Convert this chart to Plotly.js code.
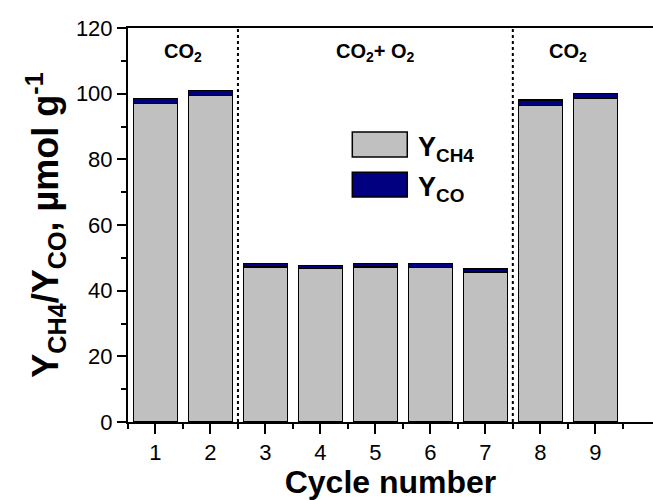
<!DOCTYPE html>
<html>
<head>
<meta charset="utf-8">
<script src="https://cdn.plot.ly/plotly-3.0.1.min.js"></script>
<style>html,body{margin:0;padding:0;background:#fff;}#chart{width:653px;height:500px;}</style>
</head>
<body>
<div id="chart"></div>
<script>
const cycles = [1, 2, 3, 4, 5, 6, 7, 8, 9];
const yCH4 = [97.0, 99.5, 47.2, 46.7, 47.2, 47.0, 45.7, 96.4, 98.5];
const yCO = [1.5, 1.5, 1.0, 1.0, 1.0, 1.2, 0.9, 1.6, 1.5];
const seriesNames = ["Y<sub>CH4</sub>", "Y<sub>CO</sub>"];
const seriesColors = ["#c0c0c0", "#000080"];
const regionLabels = ["CO<sub>2</sub>", "CO<sub>2</sub>+ O<sub>2</sub>", "CO<sub>2</sub>"];
const regionCenters = [1.5, 5, 8.5];
const regionDividers = [2.5, 7.5];
const yTicks = [0, 20, 40, 60, 80, 100, 120];

const FONT = "Arial, 'Liberation Sans', sans-serif";

const traces = [
  {type: "bar", x: cycles, y: yCH4, name: seriesNames[0], width: 0.8,
   marker: {color: seriesColors[0], line: {color: "#000", width: 1.5}}},
  {type: "bar", x: cycles, y: yCO, name: seriesNames[1], width: 0.8,
   marker: {color: seriesColors[1], line: {color: "#000", width: 1.5}}}
];

const shapes = regionDividers.map(v => ({
  type: "line", xref: "x", yref: "y", x0: v, x1: v, y0: 0, y1: 120,
  line: {color: "#000", width: 2, dash: "dot"}
}));

// legend boxes (drawn manually, Origin style)
const legX0 = 4.58, legX1 = 5.58;
const legRows = [[80.7, 88.3], [68.5, 76.1]];
legRows.forEach((r, i) => {
  shapes.push({type: "rect", xref: "x", yref: "y", x0: legX0, x1: legX1, y0: r[0], y1: r[1],
    fillcolor: seriesColors[i], line: {color: "#000", width: 1.5}});
});

const annotations = regionLabels.map((t, i) => ({
  x: regionCenters[i], y: 112.5, xref: "x", yref: "y", text: "<b>" + t + "</b>",
  showarrow: false, font: {family: FONT, size: 20, color: "#000"}
}));
legRows.forEach((r, i) => {
  annotations.push({x: 5.73, y: (r[0] + r[1]) / 2 - 1.2, xref: "x", yref: "y", xanchor: "left",
    text: "<b>" + seriesNames[i] + "</b>", showarrow: false,
    font: {family: FONT, size: 27, color: "#000"}});
});

const layout = {
  width: 653, height: 500,
  margin: {l: 128, r: 0, t: 28, b: 78},
  paper_bgcolor: "#fff", plot_bgcolor: "#fff",
  barmode: "stack",
  showlegend: false,
  font: {family: FONT, color: "#000"},
  xaxis: {
    range: [0.5, 10.05], tickvals: cycles, ticktext: cycles.map(String),
    ticks: "outside", ticklen: 10, tickwidth: 2, tickcolor: "#000",
    minor: {tickvals: [0.5,1.5,2.5,3.5,4.5,5.5,6.5,7.5,8.5,9.5], ticks: "outside", ticklen: 5, tickwidth: 2, tickcolor: "#000"},
    showline: true, linecolor: "#000", linewidth: 2, mirror: true,
    showgrid: false, zeroline: false,
    tickfont: {family: FONT, size: 22, color: "#000"},
    title: {text: "<b>Cycle number</b>", font: {family: FONT, size: 32, color: "#000"}, standoff: 4}
  },
  yaxis: {
    range: [0, 120], tickvals: yTicks,
    ticks: "outside", ticklen: 9, tickwidth: 2, tickcolor: "#000",
    minor: {dtick: 10, ticks: "outside", ticklen: 5, tickwidth: 2, tickcolor: "#000"},
    showline: true, linecolor: "#000", linewidth: 2, mirror: false,
    showgrid: false, zeroline: false,
    tickfont: {family: FONT, size: 22, color: "#000"},
    title: {text: "<b>Y<sub>CH4</sub>/Y<sub>CO</sub>, µmol g<sup>-1</sup></b>", font: {family: FONT, size: 36, color: "#000"}, standoff: 6}
  },
  shapes: shapes,
  annotations: annotations
};

Plotly.newPlot("chart", traces, layout, {displayModeBar: false, staticPlot: true});
</script>
</body>
</html>
